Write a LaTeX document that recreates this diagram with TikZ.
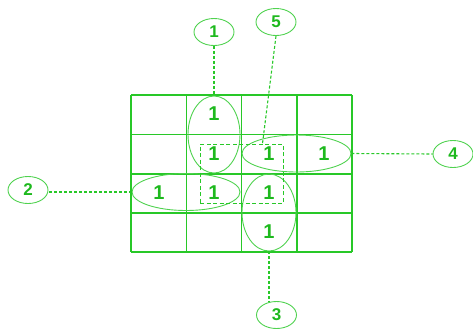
\documentclass[tikz,border=0pt]{standalone}
\usepackage{fontspec}
\setmainfont{Liberation Sans}
\usetikzlibrary{shapes.geometric,calc}
\definecolor{kgreen}{RGB}{40,200,40}
\definecolor{kgreenlt}{RGB}{80,210,80}
\definecolor{kgreentxt}{RGB}{30,185,30}
\begin{document}
\begin{tikzpicture}[x=1pt,y=-1pt,
  gridline/.style={draw=kgreen,line width=1.2pt},
  loop/.style={ellipse,draw=kgreenlt,line width=0.9pt,inner sep=0pt},
  cellnum/.style={text=kgreentxt,font=\fontsize{20}{20}\selectfont\bfseries,inner sep=0pt},
  tag/.style={ellipse,draw=kgreenlt,line width=0.9pt,minimum width=40pt,minimum height=27pt,inner sep=0pt,text=kgreentxt,font=\fontsize{17}{17}\selectfont\bfseries},
  lead/.style={draw=kgreen,line width=1.1pt,dash pattern=on 3pt off 2pt},
  groupbox/.style={draw=kgreen,line width=1pt,dash pattern=on 4pt off 2.5pt,inner sep=0pt}
]
\useasboundingbox (0,0) rectangle (473,330);
% grid
\foreach \x in {131,186.5,241.5,297,352} \draw[gridline] (\x,95) -- (\x,252);
\foreach \y in {95,134.5,174,213,252} \draw[gridline] (131,\y) -- (352,\y);
% cell values
\node[cellnum] (c12) at (214,114) {1};
\node[cellnum] (c22) at (214,154) {1};
\node[cellnum] (c23) at (269,154) {1};
\node[cellnum] (c24) at (324,154) {1};
\node[cellnum] (c31) at (159,193) {1};
\node[cellnum] (c32) at (214,193) {1};
\node[cellnum] (c33) at (269,193) {1};
\node[cellnum] (c43) at (269,232) {1};
% loops
\node[loop,minimum width=52pt,minimum height=77pt] (e1) at (214,134.5) {};
\node[loop,minimum width=108pt,minimum height=37pt] (e2) at (186,192) {};
\node[loop,minimum width=54pt,minimum height=77pt] (e3) at (269,212.5) {};
\node[loop,minimum width=109pt,minimum height=37pt] (e4) at (296.5,153.5) {};
\node[groupbox,minimum width=83pt,minimum height=59pt] (r5) at (241.5,173.5) {};
% tags
\node[tag] (L1) at (214,32) {1};
\node[tag] (L2) at (28,190) {2};
\node[tag] (L3) at (276.5,315) {3};
\node[tag] (L4) at (453,154) {4};
\node[tag] (L5) at (276,22) {5};
% leaders
\coordinate (p5) at ($(r5.north west)!0.75!(r5.north east)$);
\draw[lead] (L1.south) -- (e1.north);
\draw[lead] (L5.south) -- (p5);
\draw[lead] (e2.west) -- (L2.east |- e2.west);
\draw[lead] (e4.east) -- (L4.west);
\draw[lead] (e3.south) -- ($(e3.south |- L3.north)+(0,1)$);
\end{tikzpicture}
\end{document}
